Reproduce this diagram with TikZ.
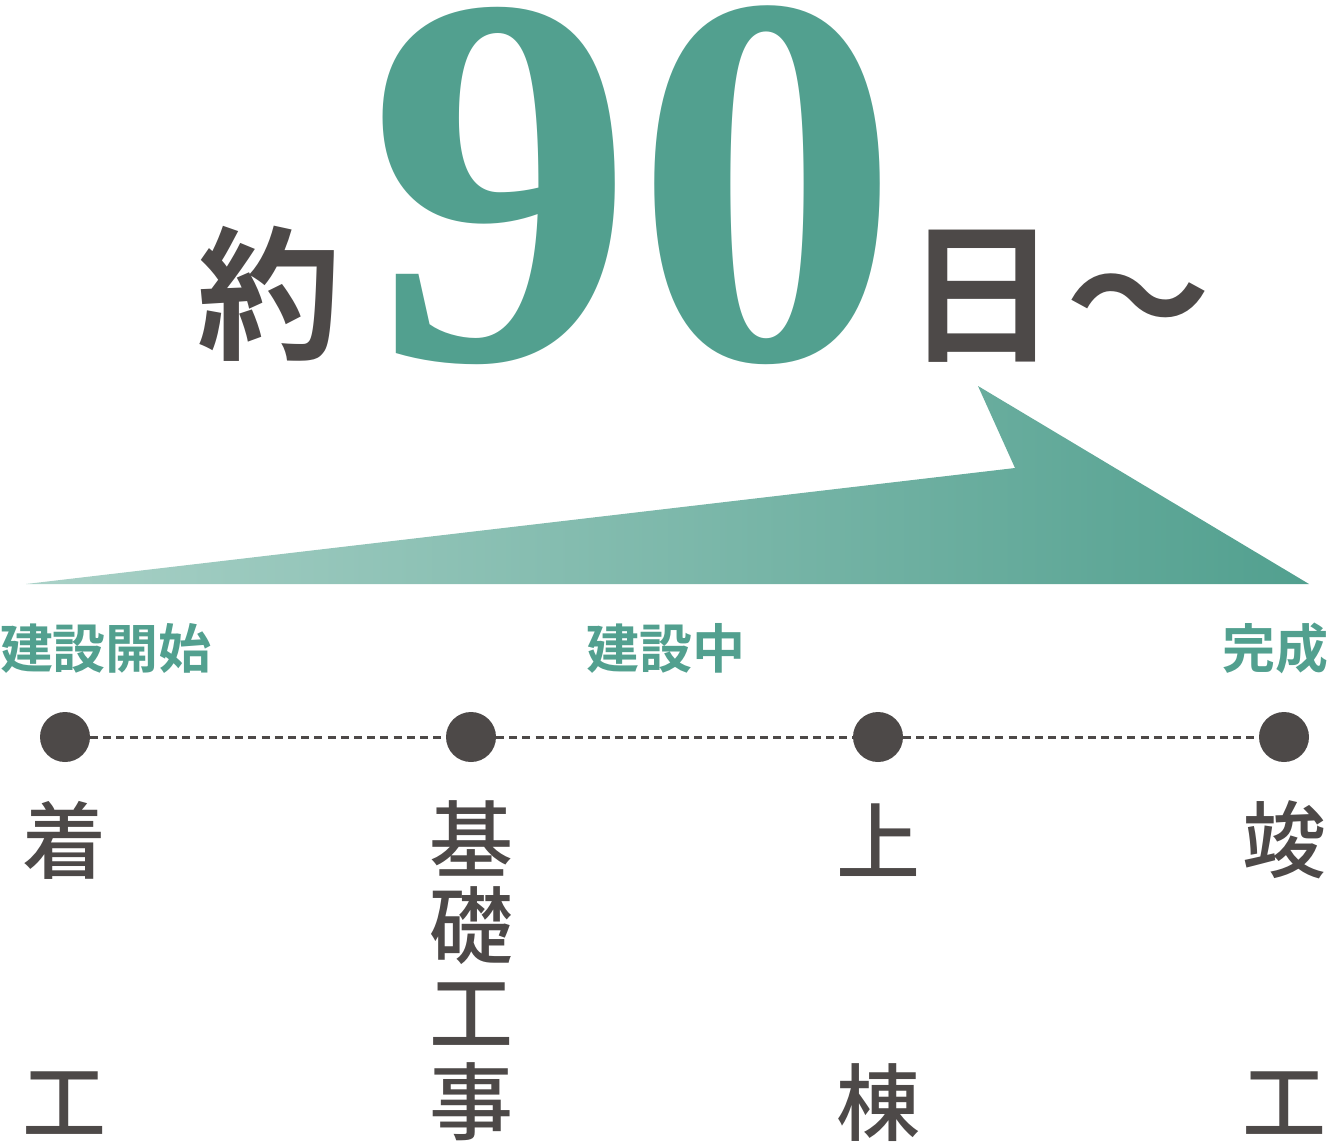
\documentclass[tikz,border=0pt]{standalone}
\usepackage{fontspec}
\setmainfont{Liberation Serif}
\newfontfamily\jp{Noto Sans CJK JP Bold}
\newfontfamily\jpmid{Noto Sans CJK JP Medium}
\definecolor{sage}{HTML}{52A08F}
\definecolor{palesage}{HTML}{A9D1C7}
\definecolor{ink}{HTML}{4D4948}
\begin{document}
\begin{tikzpicture}[x=0.5pt, y=-0.5pt,
				every node/.style = {inner sep=0pt, outer sep=0pt},
				headline/.style = {text=ink, font=\jp\fontsize{72}{72}\selectfont},
				bignum/.style = {text=sage, font=\bfseries\fontsize{266}{266}\selectfont},
				phase/.style = {text=sage, font=\jp\fontsize{26.5}{26.5}\selectfont},
				stage/.style = {text=ink, font=\jpmid\fontsize{42}{42}\selectfont},
				milestone/.style = {circle, fill=ink, minimum size=25pt},
				timeline/.style = {ink, line width=1.5pt, dash pattern=on 4pt off 2.6pt}]
	\useasboundingbox (0,0) rectangle (1328,1142);
	% heading
	\node[headline] (about) at (269,294) {約};
	\node[bignum, anchor=base] (days) at (634,359) {90};
	\node[headline, scale=1.06] (day) at (982,296) {日};
	\node[headline] (wave) at (1138,312) {～};
	% arrow
	\shade[left color=palesage, right color=sage]
		(26,584) -- (1015,468) -- (978,386) -- (1309,584) -- cycle;
	% phases
	\node[phase, anchor=west] (start) at (0,648) {建設開始};
	\node[phase] (middle) at (666,648) {建設中};
	\node[phase, anchor=east] (finish) at (1328,648) {完成};
	% timeline
	\node[milestone] (m1) at (65,737) {};
	\node[milestone] (m2) at (471,737) {};
	\node[milestone] (m3) at (878,737) {};
	\node[milestone] (m4) at (1284,737) {};
	\draw[timeline] (m1) -- (m2);
	\draw[timeline] (m2) -- (m3);
	\draw[timeline] (m3) -- (m4);
	% stages
	\node[stage] (s1a) at (65,840) {着};
	\node[stage] (s1b) at (65,1103) {工};
	\foreach \ch [count=\i] in {基,礎,工,事}
		\node[stage] (s2\i) at (471,{838+88*(\i-1)}) {\ch};
	\node[stage] (s3a) at (878,840) {上};
	\node[stage] (s3b) at (878,1103) {棟};
	\node[stage] (s4a) at (1284,840) {竣};
	\node[stage] (s4b) at (1284,1103) {工};
\end{tikzpicture}
\end{document}
